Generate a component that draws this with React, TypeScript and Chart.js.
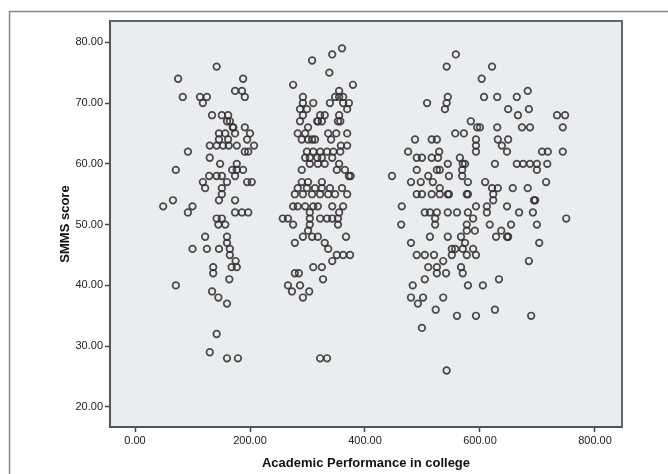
import React, { useEffect, useRef } from "react";
import { Chart, registerables } from "chart.js";

Chart.register(...registerables);

// Academic Performance in college (x) vs SMMS score (y)
const groupLow: [number, number][] = [
  [49, 53], [66, 54], [71, 59], [71, 40], [75, 74], [83, 71], [92, 62], [92, 52], [100, 53], [100, 46],
  [113, 71], [118, 70], [125, 71], [118, 57], [122, 56], [122, 48], [125, 46], [129, 58], [130, 63], [130, 61], [130, 29],
  [134, 68], [136, 43], [136, 42], [134, 39], [142, 76], [142, 58], [142, 63], [142, 51], [142, 32], [145, 38], [145, 50],
  [146, 54], [146, 65], [146, 64], [146, 46], [148, 60],
  [151, 68], [151, 58], [151, 56], [151, 55], [151, 51], [153, 63], [157, 65], [157, 50], [160, 67], [160, 57], [160, 48],
  [160, 47], [160, 37], [160, 28],
  [162, 68], [162, 64], [163, 63], [164, 41], [165, 67], [165, 46], [165, 45], [168, 43], [169, 59], [170, 66], [171, 66],
  [174, 72], [174, 65], [174, 58], [174, 54], [174, 52], [175, 44], [177, 63], [177, 60], [177, 59], [177, 43], [179, 28],
  [186, 72], [186, 52], [188, 74], [188, 59], [191, 71], [191, 66], [191, 62], [195, 64], [195, 57], [197, 62], [197, 52],
  [200, 65], [203, 57], [207, 63],
];

const groupMid: [number, number][] = [
  [257, 51], [266, 51], [266, 40], [273, 39], [275, 73], [275, 53], [275, 50], [278, 55], [278, 47], [278, 42], [283, 65],
  [283, 56], [283, 53], [285, 42], [287, 69], [287, 67], [287, 40],
  [290, 64], [290, 59], [290, 57], [292, 71], [292, 70], [292, 68], [292, 55], [292, 48], [292, 38], [296, 65], [296, 61],
  [296, 53], [299, 69], [299, 62], [299, 56], [301, 66], [301, 64], [301, 57], [301, 49], [303, 39],
  [304, 61], [304, 60], [304, 52], [304, 51], [304, 50], [308, 77], [308, 64], [308, 55], [308, 48], [310, 70], [310, 62],
  [310, 53], [310, 43], [313, 64], [313, 56], [317, 67], [317, 61],
  [318, 67], [318, 60], [318, 53], [318, 48], [322, 68], [322, 62], [322, 55], [322, 51], [322, 28], [325, 67], [325, 61],
  [325, 57], [325, 56], [325, 43], [327, 41], [330, 68], [330, 60], [330, 47],
  [334, 62], [334, 51], [334, 28], [336, 65], [336, 55], [336, 46], [338, 75], [339, 70], [339, 56], [341, 64], [343, 78],
  [343, 61], [343, 53], [343, 51], [343, 44], [345, 62],
  [348, 71], [348, 55], [350, 65], [351, 59], [351, 45], [353, 67], [353, 51], [353, 50], [355, 72], [355, 71], [355, 68],
  [355, 60], [355, 52], [357, 67], [357, 62], [358, 63],
  [360, 79], [360, 56], [362, 71], [362, 70], [362, 53], [362, 45], [365, 59], [367, 48], [369, 69], [369, 65], [369, 63],
  [369, 55], [372, 70], [372, 58], [374, 45], [375, 58], [379, 73],
];

const groupHigh: [number, number][] = [
  [447, 58], [463, 50], [464, 53], [475, 62], [480, 57], [480, 47], [480, 38], [483, 40], [487, 64], [490, 61], [490, 59],
  [490, 55], [490, 45], [492, 37], [497, 57], [499, 61], [499, 55], [499, 33], [501, 38],
  [504, 52], [504, 45], [504, 41], [508, 70], [510, 58], [510, 43], [513, 52], [513, 48], [516, 64], [516, 61], [516, 55],
  [518, 57], [520, 45], [522, 51], [522, 50], [523, 36], [525, 64], [525, 59], [525, 52], [525, 43], [525, 42],
  [527, 61], [529, 62], [530, 59], [530, 56], [530, 55], [536, 44], [536, 38], [539, 69], [541, 42], [542, 70], [542, 76],
  [542, 26], [544, 71], [544, 60], [544, 55], [544, 52], [546, 58], [546, 55], [544, 48],
  [551, 46], [551, 45], [557, 65], [557, 46], [558, 78], [560, 52], [560, 35], [565, 61], [567, 48], [567, 43], [569, 59],
  [569, 58], [570, 60], [570, 46], [570, 42], [572, 65], [574, 60], [574, 47], [577, 55], [577, 50], [577, 49], [577, 45],
  [579, 57], [579, 55], [579, 52], [579, 40],
  [584, 67], [588, 51], [588, 46], [591, 49], [593, 64], [593, 63], [593, 62], [593, 53], [593, 45], [593, 35], [595, 66],
  [600, 66], [603, 74], [605, 40], [607, 71], [609, 57], [612, 53], [612, 52], [617, 50], [621, 76], [621, 56], [623, 55],
  [623, 54], [626, 60], [626, 36], [628, 48], [630, 71], [630, 66], [631, 64], [631, 56], [633, 41], [637, 49], [638, 63],
  [647, 62], [647, 53], [647, 48], [649, 69], [649, 64], [649, 48], [654, 50], [657, 56], [664, 71], [664, 60], [666, 68],
  [668, 52], [673, 66], [675, 60], [683, 72], [683, 56], [685, 69], [685, 44], [687, 66], [687, 60], [689, 35], [692, 52],
  [694, 54], [696, 54], [699, 60], [699, 59], [699, 50], [703, 47], [708, 62], [715, 57], [717, 60], [718, 62], [734, 68],
  [744, 66], [744, 62], [748, 68], [750, 51],
];

const xTicks = [0, 200, 400, 600, 800];
const yTicks = [20, 30, 40, 50, 60, 70, 80];
const xTitle = "Academic Performance in college";
const yTitle = "SMMS score";

const framePlugin = {
  id: "spssFrame",
  beforeDraw(chart: any) {
    const { ctx, chartArea } = chart;
    const { left, top, right, bottom } = chartArea;
    ctx.save();
    ctx.fillStyle = "#ffffff";
    ctx.fillRect(0, 0, chart.width, chart.height);
    ctx.strokeStyle = "#8a8a8a";
    ctx.lineWidth = 1.5;
    ctx.beginPath();
    ctx.moveTo(9.5, chart.height);
    ctx.lineTo(9.5, 11.5);
    ctx.lineTo(chart.width, 11.5);
    ctx.stroke();
    ctx.fillStyle = "#eaedf0";
    ctx.fillRect(left, top, right - left, bottom - top);
    ctx.restore();
  },
  afterDatasetsDraw(chart: any) {
    const { ctx, chartArea } = chart;
    const { left, top, right, bottom } = chartArea;
    ctx.save();
    ctx.strokeStyle = "#666666";
    ctx.lineWidth = 2;
    ctx.beginPath();
    ctx.moveTo(left, top);
    ctx.lineTo(right, top);
    ctx.lineTo(right, bottom);
    ctx.stroke();
    ctx.restore();
  },
};

export default function App() {
  const ref = useRef<HTMLCanvasElement>(null);

  useEffect(() => {
    if (!ref.current) return;
    const points = [...groupLow, ...groupMid, ...groupHigh].map(([x, y]) => ({ x, y }));
    const tickFont = { family: "'Liberation Sans', Arial, sans-serif", size: 11 };
    const titleFont = { family: "'Liberation Sans', Arial, sans-serif", size: 13, weight: "bold" as const };
    const chart = new Chart(ref.current, {
      type: "scatter",
      data: {
        datasets: [
          {
            data: points,
            pointRadius: 3.3,
            pointBorderWidth: 1.7,
            pointBorderColor: "rgba(55,48,48,0.88)",
            pointBackgroundColor: "rgba(0,0,0,0)",
            pointHoverRadius: 3.3,
          },
        ],
      },
      options: {
        responsive: false,
        animation: false,
        devicePixelRatio: 1,
        layout: { padding: { left: 0, top: 21, right: 46, bottom: 0 } },
        plugins: { legend: { display: false }, tooltip: { enabled: false } },
        scales: {
          x: {
            type: "linear",
            min: -43.5,
            max: 847,
            afterBuildTicks: (s: any) => {
              s.ticks = xTicks.map((v) => ({ value: v }));
            },
            afterFit: (s: any) => {
              s.height = 47;
            },
            ticks: {
              callback: (v: any) => Number(v).toFixed(2),
              color: "#222",
              font: tickFont,
              padding: 2,
              maxRotation: 0,
            },
            grid: { drawOnChartArea: false, drawTicks: true, tickLength: 5, tickColor: "#444", tickWidth: 1.5 },
            border: { display: true, color: "#555", width: 2 },
            title: { display: true, text: xTitle, color: "#111", font: titleFont, padding: { top: 0, bottom: 3 } },
          },
          y: {
            type: "linear",
            min: 16.7,
            max: 83.5,
            afterBuildTicks: (s: any) => {
              s.ticks = yTicks.map((v) => ({ value: v }));
            },
            afterFit: (s: any) => {
              s.width = 110;
            },
            ticks: {
              callback: (v: any) => Number(v).toFixed(2),
              color: "#222",
              font: tickFont,
              padding: 2,
            },
            grid: { drawOnChartArea: false, drawTicks: true, tickLength: 5, tickColor: "#444", tickWidth: 1.5 },
            border: { display: true, color: "#555", width: 2 },
            title: { display: true, text: yTitle, color: "#111", font: titleFont, padding: { top: 58, bottom: 0 } },
          },
        },
      },
      plugins: [framePlugin],
    });
    return () => chart.destroy();
  }, []);

  return (
    <div style={{ position: "fixed", left: 0, top: 0, width: 668, height: 474, background: "#fff" }}>
      <canvas ref={ref} width={668} height={474} />
    </div>
  );
}
